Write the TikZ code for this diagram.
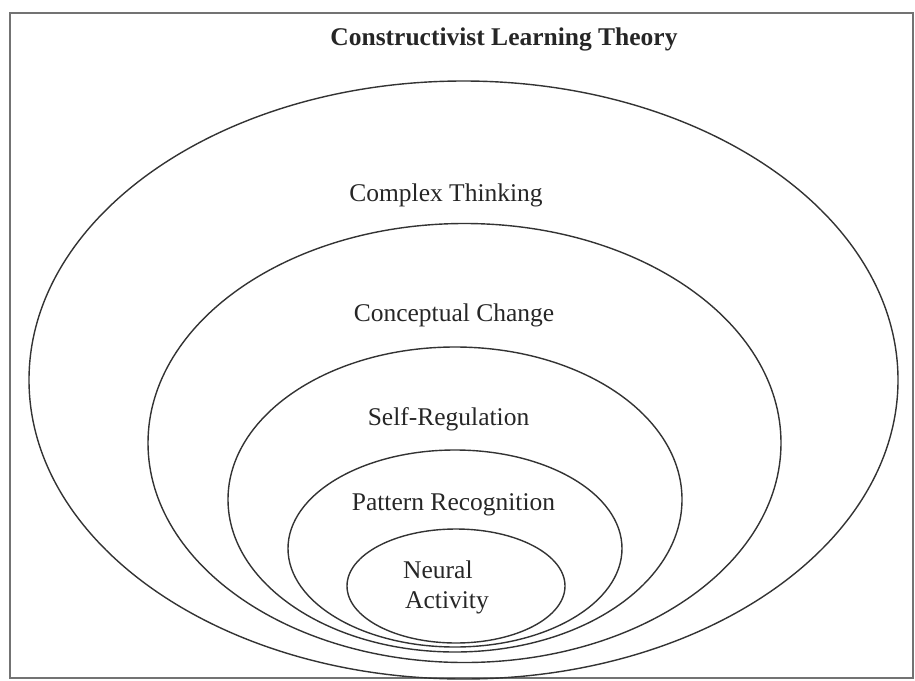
\documentclass[tikz,border=0pt]{standalone}
\usepackage{fontspec}
\setmainfont{Liberation Serif}
\begin{document}
\begin{tikzpicture}[x=1pt,y=-1pt,
  ring/.style={draw=black!80, line width=1.4pt},
  frame/.style={draw=black!55, line width=2pt},
  lbl/.style={font=\fontsize{25.5}{30}\selectfont, inner sep=0pt, anchor=base, text=black!85}]
\useasboundingbox (0,0) rectangle (915,680);
\draw[frame] (9.5,12.5) rectangle (913,677.5);
% nested ellipses
\draw[ring] (463.5,380) ellipse [x radius=434.5, y radius=299];
\draw[ring] (464.5,443) ellipse [x radius=316.5, y radius=219.5];
\draw[ring] (455,499.5) ellipse [x radius=227, y radius=152.5];
\draw[ring] (455,548.5) ellipse [x radius=167, y radius=98.5];
\draw[ring] (456,586) ellipse [x radius=109, y radius=57];
% labels
\node[lbl, font=\fontsize{25.5}{30}\selectfont\bfseries] (title) at (504,45) {Constructivist Learning Theory};
\node[lbl] (complex) at (446,201.5) {Complex Thinking};
\node[lbl] (concept) at (454,321) {Conceptual Change};
\node[lbl] (selfreg) at (448.5,425) {Self-Regulation};
\node[lbl] (pattern) at (453.5,510) {Pattern Recognition};
\node[lbl, anchor=base west] (neural) at (403,578) {Neural};
\node[lbl, anchor=base west] (activity) at (405,608) {Activity};
\end{tikzpicture}
\end{document}
